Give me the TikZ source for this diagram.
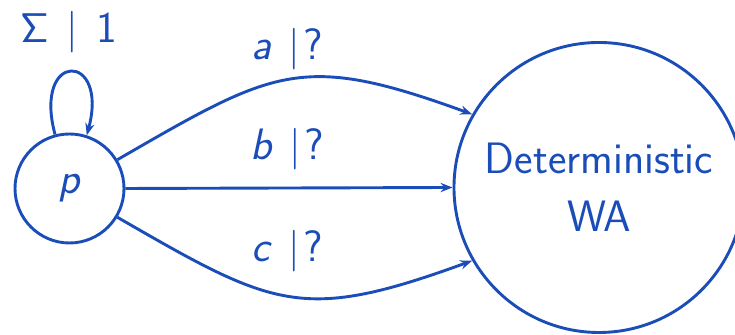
\documentclass[tikz,border=0pt]{standalone}
\usetikzlibrary{arrows.meta}
\definecolor{wablue}{RGB}{26,77,184}
\newcommand{\sfSig}{{\fontencoding{OT1}\fontfamily{cmss}\selectfont\char6}}
\begin{document}
\begin{tikzpicture}[x=0.5pt,y=0.5pt,
  every node/.style={text=wablue,font=\sffamily\fontsize{22}{29}\selectfont},
  state/.style={draw=wablue,line width=1.45pt,circle,inner sep=0pt},
  lbl/.style={anchor=base,inner sep=0pt},
  edge/.style={draw=wablue,line width=1.45pt,-{Stealth[length=6pt,width=4.6pt,inset=2pt]}}]
\useasboundingbox (0,0) rectangle (735,335);
\clip (0,0) rectangle (735,335);
\node[state,minimum size=54.5pt] (p) at (69.5,146.5) {\textit{p}};
\node[state,minimum size=145pt,align=center] (big) at (599,147.5) {Deterministic\\WA};
\draw[edge] (p.105) .. controls +(105:87) and +(75:87) .. (p.72);
\draw[edge] (p.31) to[out=30,in=160,looseness=1.3] (big.150);
\draw[edge] (p.east) -- (big.180);
\draw[edge] (p.-31) to[out=-30,in=200,looseness=1.3] (big.210);
\node[lbl] (l0) at (68.5,292) {\sfSig\hspace{9pt}$|$\hspace{9pt}1};
\node[lbl] (la) at (287.5,275) {\textit{a}\hspace{8pt}$|$\hspace{2pt}?};
\node[lbl] (lb) at (287.5,175) {\textit{b}\hspace{8pt}$|$\hspace{2pt}?};
\node[lbl] (lc) at (287.5,73) {\textit{c}\hspace{8pt}$|$\hspace{2pt}?};
\end{tikzpicture}
\end{document}
